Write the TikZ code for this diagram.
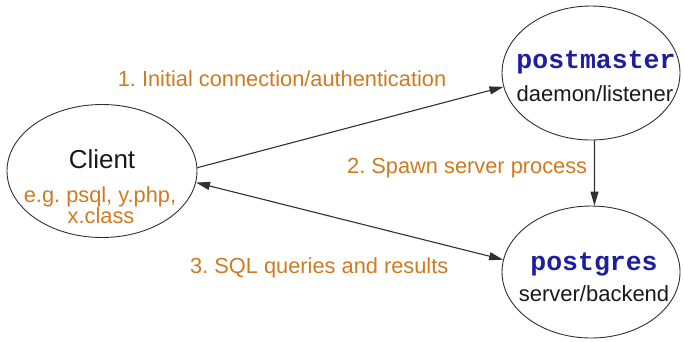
\documentclass[tikz,border=0pt]{standalone}
\usepackage{fontspec}
\setmainfont{Liberation Sans}
\newfontfamily\codefont{Liberation Mono}
\usetikzlibrary{shapes.geometric,arrows.meta}
\definecolor{steporange}{HTML}{D07A20}
\definecolor{procblue}{HTML}{1E1EA0}
\definecolor{edgegray}{HTML}{303030}
\frenchspacing
\tikzset{
  proc/.style={ellipse, draw=edgegray, line width=0.9pt, inner sep=0pt},
  steplabel/.style={text=steporange, font=\fontsize{21.8}{24}\selectfont, inner sep=0pt},
  plain/.style={text=black!90, font=\fontsize{22}{24}\selectfont, inner sep=0pt},
  code/.style={text=procblue, font=\codefont\bfseries\fontsize{26.5}{28}\selectfont, inner sep=0pt},
  flow/.style={draw=edgegray, line width=1.1pt, -{Triangle[length=14pt,width=8pt]}},
  flowboth/.style={draw=edgegray, line width=1.1pt, {Triangle[length=14pt,width=8pt]}-{Triangle[length=14pt,width=8pt]}}
}
\begin{document}
\begin{tikzpicture}[x=1pt,y=-1pt]
  \useasboundingbox (0,0) rectangle (684,341);

  % processes
  \node[proc, minimum width=190pt, minimum height=133pt] (client) at (102,171) {};
  \node[proc, minimum width=178pt, minimum height=134pt] (pm) at (591,73) {};
  \node[proc, minimum width=178pt, minimum height=132pt] (pg) at (591,272) {};

  % process texts
  \node[plain, font=\fontsize{26}{28}\selectfont] (clientname) at (102,159) {Client};
  \node[steplabel] (clientex1) at (100,197) {e.g. psql, y.php,};
  \node[steplabel] (clientex2) at (101,216) {x.class};
  \node[code] (pmname) at (596,62) {postmaster};
  \node[plain] (pmrole) at (595,94) {daemon/listener};
  \node[code] (pgname) at (594,264) {postgres};
  \node[plain] (pgrole) at (594,294) {server/backend};

  % connectors
  \draw[flow] (client.2) -- (pm.189);
  \draw[flow] (pm.-87) -- (pg.87);
  \draw[flowboth] (client.-7) -- (pg.172);

  % step labels
  \node[steplabel] (s1) at (282,79) {1. Initial connection/authentication};
  \node[steplabel, anchor=west] (s2) at (347,168) {2. Spawn server process};
  \node[steplabel, anchor=west] (s3) at (190,268) {3. SQL queries and results};
\end{tikzpicture}
\end{document}
